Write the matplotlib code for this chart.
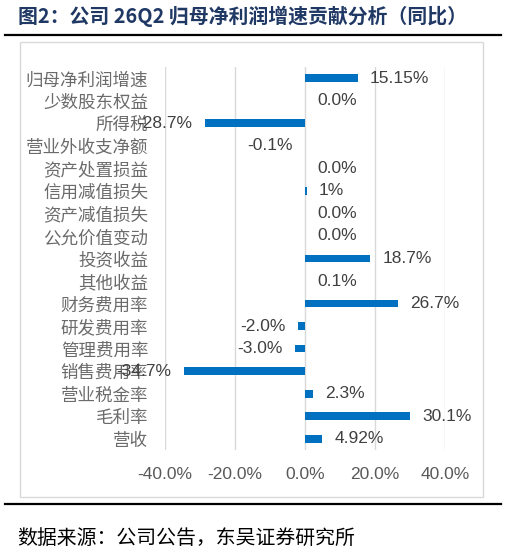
import numpy as np
import matplotlib.pyplot as plt
from matplotlib.patches import Rectangle
from matplotlib.lines import Line2D

plt.rcParams['font.family'] = ['Noto Sans CJK SC', 'DejaVu Sans']

# data, top to bottom as in the chart
categories = ['归母净利润增速', '少数股东权益', '所得税', '营业外收支净额', '资产处置损益',
              '信用减值损失', '资产减值损失', '公允价值变动', '投资收益', '其他收益',
              '财务费用率', '研发费用率', '管理费用率', '销售费用率', '营业税金率',
              '毛利率', '营收']
values = [15.15, 0.0, -28.7, -0.1, 0.0, 0.6, 0.0, 0.0, 18.7, 0.1, 26.7,
          -2.0, -3.0, -34.7, 2.3, 30.1, 4.92]
labels = ['15.15%', '0.0%', '-28.7%', '-0.1%', '0.0%', '1%', '0.0%', '0.0%',
          '18.7%', '0.1%', '26.7%', '-2.0%', '-3.0%', '-34.7%', '2.3%', '30.1%', '4.92%']
xticks = [-40, -20, 0, 20, 40]

W, H = 507, 552
fig = plt.figure(figsize=(W / 100, H / 100), dpi=100)

# outer box of the chart
fig.patches.append(Rectangle((20 / W, 1 - 497 / H), 463 / W, 455 / H,
                             transform=fig.transFigure, fill=False,
                             edgecolor='#d9d9d9', linewidth=1.0))
# thick rules
fig.lines.append(Line2D([5 / W, 501 / W], [1 - 34.5 / H] * 2, transform=fig.transFigure,
                        color='black', linewidth=1.6))
fig.lines.append(Line2D([5 / W, 501 / W], [1 - 504 / H] * 2, transform=fig.transFigure,
                        color='black', linewidth=1.6))

fig.text(18 / W, 1 - 16 / H, '图2：公司 26Q2 归母净利润增速贡献分析（同比）',
         fontsize=14.3, fontweight='bold', color='#1f3864', va='center', ha='left')
fig.text(17 / W, 1 - 538 / H, '数据来源：公司公告，东吴证券研究所',
         fontsize=14.3, color='black', va='center', ha='left')

ax = fig.add_axes([165 / W, 1 - 450 / H, 280 / W, 383 / H])
y = np.arange(len(categories))[::-1]
ax.barh(y, values, height=0.34, color='#0070C0', zorder=3)

for yi, v, lab in zip(y, values, labels):
    if v < 0:
        ax.annotate(lab, (v, yi), xytext=(-12, 0), textcoords='offset pixels',
                    ha='right', va='center', fontsize=12.5, color='#404040',
                    family=['Liberation Sans', 'DejaVu Sans'], zorder=4)
    else:
        ax.annotate(lab, (v, yi), xytext=(12, 0), textcoords='offset pixels',
                    ha='left', va='center', fontsize=12.5, color='#404040',
                    family=['Liberation Sans', 'DejaVu Sans'], zorder=4)

ax.set_xlim(-40, 40)
ax.set_ylim(-0.5, len(categories) - 0.5)
ax.set_xticks(xticks)
ax.set_xticklabels([f'{t:.1f}%' for t in xticks], family=['Liberation Sans', 'DejaVu Sans'],
                   fontsize=12.5, color='#595959')
ax.set_yticks(y)
ax.set_yticklabels(categories, fontsize=12.6, color='#6b6b6b')
ax.tick_params(axis='both', length=0)
ax.tick_params(axis='x', pad=12)
ax.tick_params(axis='y', pad=12)
ax.grid(axis='x', color='#d9d9d9', linewidth=1.0, zorder=0)
for s in ax.spines.values():
    s.set_visible(False)

fig.savefig('out.png', dpi=100)
